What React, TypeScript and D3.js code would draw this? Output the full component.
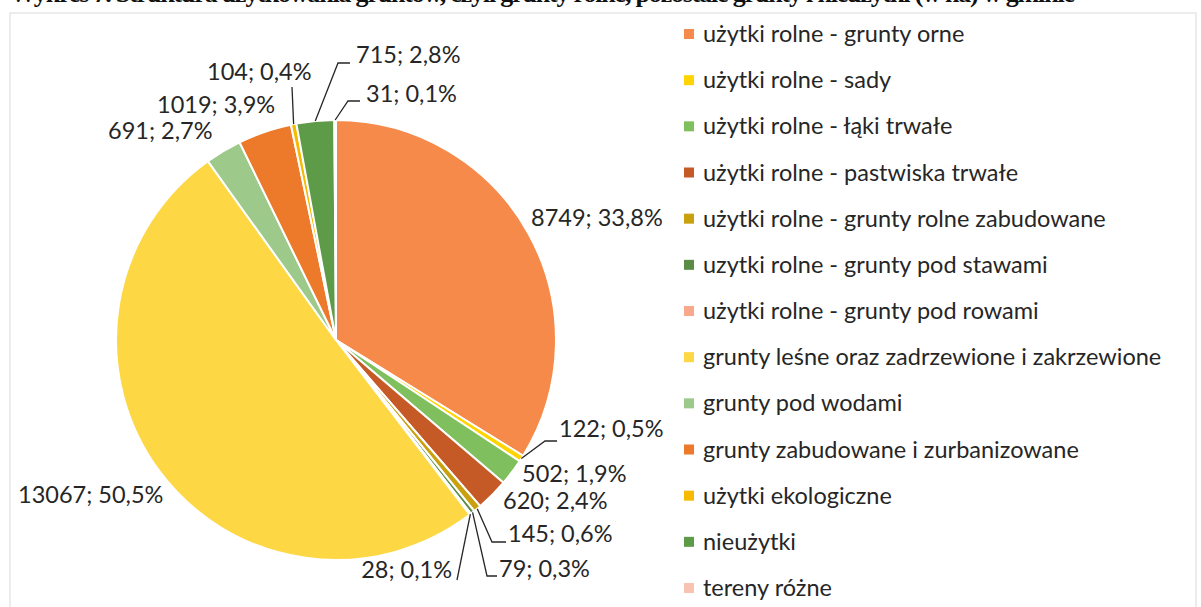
import React from "react";
import * as d3 from "d3";

// land use categories (ha)
const categories = [
  "użytki rolne - grunty orne",
  "użytki rolne - sady",
  "użytki rolne - łąki trwałe",
  "użytki rolne - pastwiska trwałe",
  "użytki rolne - grunty rolne zabudowane",
  "uzytki rolne - grunty pod stawami",
  "użytki rolne - grunty pod rowami",
  "grunty leśne oraz zadrzewione i zakrzewione",
  "grunty pod wodami",
  "grunty zabudowane i zurbanizowane",
  "użytki ekologiczne",
  "nieużytki",
  "tereny różne",
];
const values = [8749, 122, 502, 620, 145, 79, 28, 13067, 691, 1019, 104, 715, 31];
const colors = [
  "#F68A4A", "#FFD400", "#80BF5E", "#C65A27", "#C9A10E", "#5B8C45", "#F9A98B",
  "#FDD744", "#9DC98A", "#EC7A2A", "#F6BA00", "#5E9B48", "#F9C3B1",
];

// where Excel placed each data label (x, baseline y, anchor) and its leader bends
const labelLayout: { x: number; y: number; anchor: string; leader: number[][] | null }[] = [
  { x: 531, y: 226, anchor: "start", leader: null },
  { x: 559, y: 437, anchor: "start", leader: [[545, 441], [557, 441]] },
  { x: 522, y: 482, anchor: "start", leader: null },
  { x: 503, y: 509, anchor: "start", leader: null },
  { x: 508, y: 542, anchor: "start", leader: [[492, 542], [506, 542]] },
  { x: 499, y: 577, anchor: "start", leader: [[487, 576], [497, 576]] },
  { x: 452, y: 578, anchor: "end", leader: [[457, 580]] },
  { x: 18, y: 503, anchor: "start", leader: null },
  { x: 108, y: 139, anchor: "start", leader: null },
  { x: 157, y: 113, anchor: "start", leader: null },
  { x: 207, y: 80, anchor: "start", leader: [[292, 87]] },
  { x: 356, y: 63, anchor: "start", leader: [[338, 63], [350, 63]] },
  { x: 366, y: 102, anchor: "start", leader: [[348, 101], [360, 101]] },
];

const W = 1201, H = 607;
const cx = 336, cy = 340, R = 220;
const font = "Lato, 'Open Sans', sans-serif";

export default function App() {
  const total = d3.sum(values);
  const pie = d3.pie<number>().sort(null).value(d => d);
  const arcs = pie(values);
  const arc = d3.arc<d3.PieArcDatum<number>>().innerRadius(0).outerRadius(R);
  const pct = (v: number) => d3.format(".1f")((v / total) * 100).replace(".", ",");
  const line = d3.line();

  const legendY = d3.scaleLinear().domain([0, 12]).range([34, 588]);

  return (
    <svg width={W} height={H} style={{ position: "absolute", left: 0, top: 0, background: "#fff" }}>
      <text x={10} y={2} fontFamily="'Liberation Serif', serif" fontWeight="bold" fontSize={26}
        textLength={1065} lengthAdjust="spacing" fill="#111">
        Wykres 7. Struktura użytkowania gruntów, czyli grunty rolne, pozostałe grunty i nieużytki (w ha) w gminie
      </text>
      <rect x={10} y={13} width={1186} height={600} fill="none" stroke="#d9d9d9" strokeWidth={1} />

      <g transform={`translate(${cx},${cy})`}>
        {arcs.map((a, i) => (
          <path key={i} d={arc(a) || ""} fill={colors[i]} stroke="#fff" strokeWidth={2} strokeLinejoin="round" />
        ))}
      </g>

      {arcs.map((a, i) => {
        const L = labelLayout[i];
        const mid = (a.startAngle + a.endAngle) / 2;
        const p0: [number, number] = [cx + Math.sin(mid) * R, cy - Math.cos(mid) * R];
        return (
          <g key={i}>
            {L.leader && (
              <path d={line([p0, ...(L.leader as [number, number][])]) || ""} fill="none"
                stroke="#262626" strokeWidth={1.3} />
            )}
            <text x={L.x} y={L.y} textAnchor={L.anchor} fontFamily={font} fontSize={23.5} fill="#262626">
              {`${values[i]}; ${pct(values[i])}%`}
            </text>
          </g>
        );
      })}

      {categories.map((c, i) => (
        <g key={c} transform={`translate(684,${legendY(i)})`}>
          <rect x={0} y={-5} width={10} height={10} fill={colors[i]} />
          <text x={19} y={8} fontFamily={font} fontSize={23.5} fill="#262626">{c}</text>
        </g>
      ))}
    </svg>
  );
}
